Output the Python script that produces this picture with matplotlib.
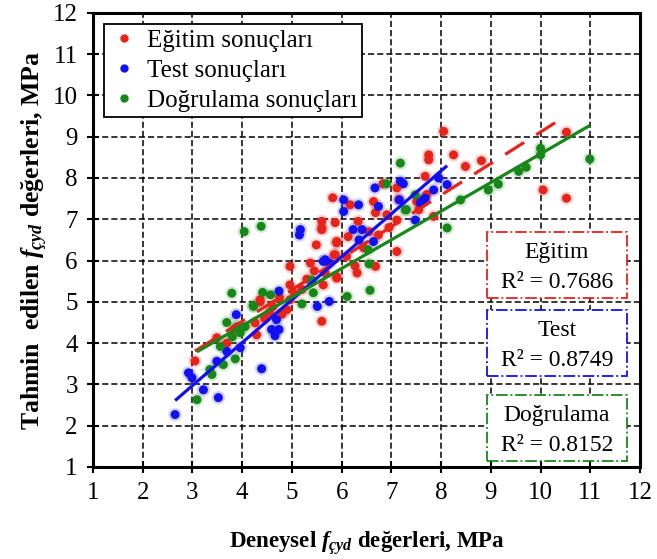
import matplotlib
matplotlib.use('Agg')
import matplotlib.pyplot as plt
from matplotlib.lines import Line2D
from matplotlib.patches import Rectangle
import numpy as np

plt.rcParams['font.family'] = ['Liberation Serif', 'DejaVu Serif']
plt.rcParams['mathtext.fontset'] = 'custom'
plt.rcParams['mathtext.rm'] = 'Liberation Serif:bold'
plt.rcParams['mathtext.it'] = 'Liberation Serif:italic:bold'

# Egitim (training) points
egitim_x = [4.36, 3.49, 3.69, 4.29, 3.05, 5.60, 5.49, 5.90, 5.85, 5.37, 4.96, 5.67, 5.90,
            6.10, 4.96, 5.63, 4.36, 4.62, 4.90, 4.96, 5.60, 4.26, 5.82, 6.17, 6.64, 6.68,
            6.91, 5.60, 5.87, 6.33, 5.90, 6.13, 6.74, 6.44, 7.11, 5.87, 6.27, 7.71, 6.83,
            7.11, 8.05, 7.75, 7.75, 8.25, 8.49, 8.81, 7.68, 7.51, 7.55, 7.85, 10.52, 10.05,
            10.52, 5.60, 6.68, 6.31, 5.90, 7.15, 7.11, 4.75, 5.05, 5.20, 4.80, 5.30, 4.55,
            4.45, 3.85, 5.45, 6.55, 6.95]
egitim_y = [5.00, 4.13, 4.00, 4.20, 3.57, 6.75, 6.38, 6.43, 6.14, 5.94, 5.86, 5.70, 5.58,
            6.10, 5.41, 5.41, 5.05, 4.89, 4.81, 5.05, 4.53, 4.49, 7.52, 7.35, 7.43, 7.16,
            7.11, 6.95, 6.92, 6.95, 6.46, 6.58, 6.62, 6.31, 6.22, 6.14, 5.87, 7.60, 7.86,
            7.76, 9.13, 8.56, 8.44, 8.56, 8.28, 8.42, 8.04, 7.43, 7.23, 7.07, 9.11, 7.71,
            7.51, 6.79, 5.86, 5.70, 5.61, 7.48, 6.98, 5.10, 5.20, 5.30, 4.70, 5.55, 4.75,
            4.60, 4.35, 5.75, 6.70, 6.80]

# Test points
test_x = [3.88, 3.69, 3.96, 3.49, 2.92, 2.99, 4.39, 3.22, 3.52, 2.65, 5.15, 5.17, 5.75,
          4.74, 5.51, 5.75, 4.69, 4.59, 4.74, 4.66, 7.18, 7.24, 6.67, 6.04, 6.34, 6.04,
          6.74, 7.16, 7.58, 6.23, 6.41, 6.35, 6.64, 5.67, 5.63, 7.48, 7.64, 7.95, 8.12,
          7.85, 7.68]
test_y = [4.69, 3.80, 3.89, 3.56, 3.28, 3.16, 3.38, 2.87, 2.68, 2.27, 6.62, 6.75, 5.94,
          5.26, 4.89, 5.01, 4.57, 4.33, 4.33, 4.18, 7.92, 7.86, 7.76, 7.47, 7.35, 7.19,
          7.31, 7.47, 7.40, 6.75, 6.75, 6.50, 6.46, 6.02, 5.98, 6.98, 7.47, 8.00, 7.84,
          7.71, 7.51]

# Dogrulama (validation) points
dogrulama_x = [3.69, 4.22, 3.56, 3.96, 3.86, 3.35, 3.62, 3.39, 3.09, 3.80, 3.90, 5.40, 5.43,
               4.41, 4.57, 4.23, 5.20, 4.06, 7.18, 6.90, 7.30, 6.53, 6.55, 6.11, 6.57, 7.48,
               7.28, 8.39, 9.15, 8.95, 8.12, 10.00, 10.00, 10.99, 9.71, 9.56, 4.04, 4.38,
               3.79]
dogrulama_y = [4.50, 4.91, 3.92, 4.25, 3.62, 3.36, 3.48, 3.24, 2.63, 4.15, 4.40, 5.53, 5.22,
               5.23, 5.17, 4.89, 4.95, 4.40, 8.36, 7.86, 7.23, 6.26, 5.92, 5.13, 5.28, 7.59,
               7.23, 7.47, 7.85, 7.71, 6.79, 8.72, 8.56, 8.46, 8.26, 8.16, 6.70, 6.83,
               5.21]

# linear trend lines (slope, intercept) and R^2
trend_slope = [0.764, 1.04, 0.694]
trend_intercept = [1.475, -0.147, 1.645]
r2_values = [0.7686, 0.8749, 0.8152]
group_names = ['Eğitim', 'Test', 'Doğrulama']
legend_labels = ['Eğitim sonuçları', 'Test sonuçları', 'Doğrulama sonuçları']

colors = ['#e8231a', '#1010f0', '#17871a']
xs_all = [egitim_x, test_x, dogrulama_x]
ys_all = [egitim_y, test_y, dogrulama_y]

fig = plt.figure(figsize=(6.57, 5.59), dpi=100)
ax = fig.add_axes([0.1416, 0.1646, 0.8326, 0.8124])

ax.set_xlim(1, 12)
ax.set_ylim(1, 12)
ax.set_xticks(range(1, 13))
ax.set_yticks(range(1, 13))
ax.grid(True, color='black', linestyle=(0, (4, 2)), linewidth=1.1, zorder=0)
ax.set_axisbelow(True)

# scatter with soft halo
for xs, ys, c in zip(xs_all, ys_all, colors):
    ax.scatter(xs, ys, s=95, color=c, alpha=0.18, edgecolors='none', zorder=2)
    ax.scatter(xs, ys, s=42, color=c, edgecolors='none', zorder=3)

# trend lines over the data range of each group
styles = [dict(linestyle=(0, (7, 4.5))), dict(linestyle='-'), dict(linestyle='-')]
for i in range(3):
    xs = np.array([min(xs_all[i]), max(xs_all[i])])
    ax.plot(xs, trend_slope[i] * xs + trend_intercept[i], color=colors[i],
            linewidth=2.3, zorder=4, solid_capstyle='butt', **styles[i])

for s in ax.spines.values():
    s.set_linewidth(2.2)
ax.tick_params(direction='inout', length=8, width=1.5, labelsize=18, pad=7)

ax.set_xlabel(r'Deneysel $f_{\mathit{çyd}}$ değerleri, MPa', fontsize=16.5,
              fontweight='bold', labelpad=18)
ax.set_ylabel(r'Tahmin  edilen $f_{\mathit{çyd}}$ değerleri, MPa', fontsize=18.5,
              fontweight='bold', labelpad=2)

handles = [Line2D([], [], marker='o', linestyle='none', color=c, markersize=5)
           for c in colors]
leg = ax.legend(handles, legend_labels, loc='upper left', fontsize=18,
                frameon=True, fancybox=False, edgecolor='black', framealpha=1,
                handletextpad=0.3, borderpad=0.2, labelspacing=0.3,
                handlelength=1.2, borderaxespad=0.45)
leg.get_frame().set_linewidth(1.3)

# R^2 boxes
box_tops = [0.518, 0.346, 0.159]
box_h = 0.146
for i in range(3):
    top = box_tops[i]
    ax.add_patch(Rectangle((0.720, top - box_h), 0.256, box_h, transform=ax.transAxes,
                           facecolor='white', edgecolor=colors[i], linewidth=1.3,
                           linestyle='-.', zorder=5))
    ax.text(0.848, top - 0.045, group_names[i], transform=ax.transAxes, ha='center',
            va='center', fontsize=17, zorder=6)
    ax.text(0.848, top - 0.111, 'R² = %.4f' % r2_values[i], transform=ax.transAxes,
            ha='center', va='center', fontsize=17, zorder=6)

fig.savefig('out.png', dpi=100)
